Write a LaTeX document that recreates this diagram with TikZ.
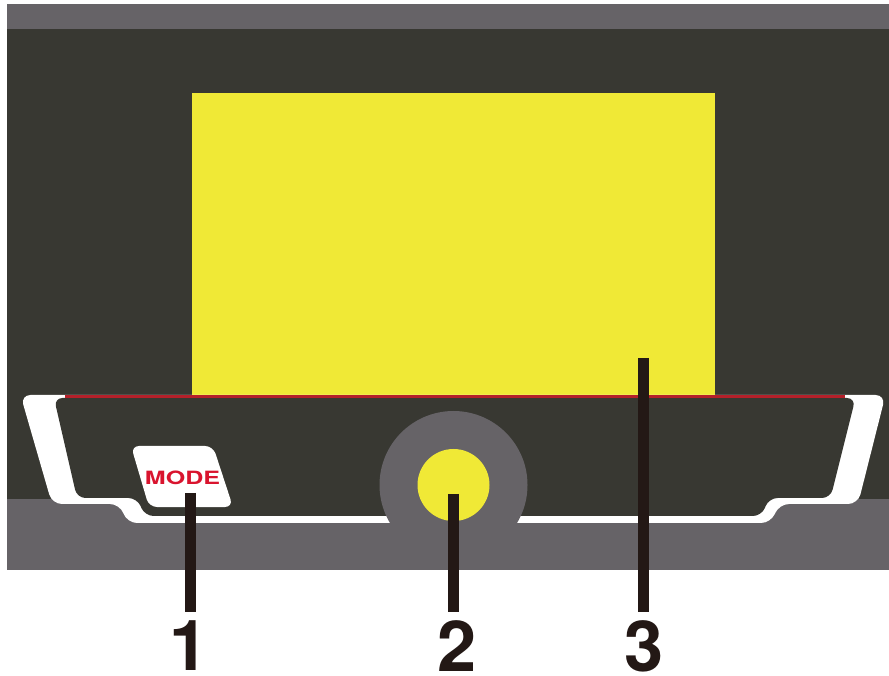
\documentclass[tikz,border=0pt]{standalone}
\usepackage{fontspec}
\setmainfont{TeX Gyre Heros}
\definecolor{paneldark}{HTML}{383832}
\definecolor{panelgray}{HTML}{666367}
\definecolor{lampyellow}{HTML}{F0E936}
\definecolor{trimred}{HTML}{B5202A}
\definecolor{modered}{HTML}{D9142E}
\definecolor{leaderblack}{HTML}{231815}
\tikzset{
  leader/.style={leaderblack,line width=0.11cm},
  numlabel/.style={font=\fontsize{20}{20}\bfseries\selectfont,text=leaderblack,inner sep=0pt},
}
\begin{document}
\begin{tikzpicture}
  \useasboundingbox (0,0) rectangle (8.89,6.75);
  % Housing
  \fill[panelgray] (0.07,1.05) rectangle (8.89,6.71);
  \fill[paneldark] (0.07,1.76) rectangle (8.89,6.46);
  % Display
  \fill[lampyellow] (1.915,2.79) rectangle (7.15,5.82);
  % White trim and the dark recess inside it
  \fill[white,rounded corners=0.1cm] (0.65,2.80)--(0.205,2.80)--(0.52,1.71)--(1.20,1.71)--(1.27,1.52)
    --(7.71,1.52)--(7.79,1.71)--(8.58,1.71)--(8.855,2.80)--(8.45,2.80)--cycle;
  \fill[paneldark,rounded corners=0.085cm] (0.54,2.77)--(0.77,1.77)--(1.37,1.77)--(1.45,1.59)
    --(7.615,1.59)--(7.69,1.77)--(8.305,1.77)--(8.555,2.77)--cycle;
  \draw[trimred,line width=0.03cm] (0.65,2.783)--(8.45,2.783);
  % Dial
  \fill[panelgray] (4.535,1.90) circle (0.74);
  \fill[lampyellow] (4.535,1.90) circle (0.36);
  % Mode key
  \fill[white,rounded corners=0.08cm] (1.31,2.29)--(2.13,2.29)--(2.33,1.68)--(1.49,1.68)--cycle;
  \node[font=\fontsize{5.2}{5.2}\bfseries\selectfont,text=modered,xscale=1.37,transform shape,inner sep=0pt] (modelabel) at (1.825,1.975) {MODE};
  % Callouts
  \coordinate (topone) at (1.90,1.82);
  \coordinate (bottomone) at (1.90,0.63);
  \coordinate (toptwo) at (4.535,1.81);
  \coordinate (bottomtwo) at (4.535,0.63);
  \coordinate (topthree) at (6.435,3.17);
  \coordinate (bottomthree) at (6.435,0.63);
  \draw[leader] (topone)--(bottomone);
  \draw[leader] (toptwo)--(bottomtwo);
  \draw[leader] (topthree)--(bottomthree);
  \node[numlabel] (numone) at (1.89,0.29) {1};
  \node[numlabel] (numtwo) at (4.57,0.29) {2};
  \node[numlabel] (numthree) at (6.44,0.29) {3};
\end{tikzpicture}
\end{document}
